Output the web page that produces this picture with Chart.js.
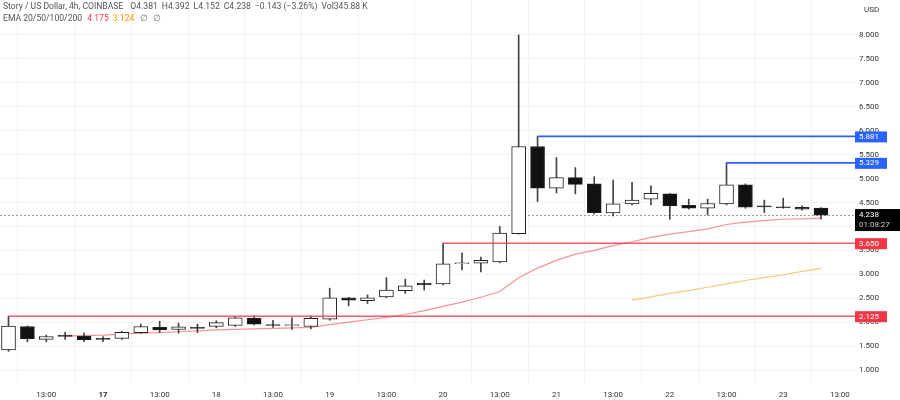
<!DOCTYPE html>
<html>
<head>
<meta charset="utf-8">
<script src="https://cdn.jsdelivr.net/npm/chart.js@4.4.1/dist/chart.umd.min.js"></script>
<style>
html, body { margin: 0; padding: 0; background: #fff; }
#wrap { width: 900px; height: 400px; }
</style>
</head>
<body>
<div id="wrap"><canvas id="chart"></canvas></div>
<script>
// 4h candles, Story / US Dollar (COINBASE)
let opens  = [1.42,1.91,1.64,1.73,1.71,1.66,1.66,1.78,1.89,1.85,1.89,1.91,1.93,2.08,1.95,1.93,1.91,2.06,2.51,2.45,2.53,2.66,2.81,2.80,3.22,3.23,3.26,3.85,5.67,4.80,5.02,4.89,4.28,4.47,4.57,4.68,4.44,4.38,4.47,4.87,4.43,4.41,4.40,4.381];
let highs  = [2.125,1.92,1.73,1.79,1.77,1.70,1.81,1.96,2.02,1.98,1.96,2.03,2.12,2.13,2.04,2.09,2.13,2.71,2.52,2.57,2.93,2.90,2.88,3.65,3.45,3.36,4.00,8.00,5.881,5.44,5.23,5.04,4.97,4.92,4.85,4.69,4.57,4.57,5.329,4.89,4.55,4.59,4.43,4.392];
let lows   = [1.39,1.59,1.59,1.64,1.59,1.59,1.64,1.77,1.78,1.77,1.78,1.88,1.91,1.94,1.89,1.85,1.86,2.04,2.34,2.39,2.51,2.60,2.67,2.78,3.09,3.05,3.24,3.84,4.52,4.70,4.68,4.26,4.22,4.45,4.45,4.15,4.36,4.24,4.45,4.38,4.29,4.38,4.34,4.152];
let closes = [1.92,1.65,1.70,1.70,1.63,1.64,1.79,1.91,1.84,1.90,1.87,1.99,2.09,1.96,1.93,1.95,2.08,2.51,2.46,2.51,2.67,2.76,2.78,3.22,3.24,3.29,3.86,5.67,4.80,5.02,4.88,4.29,4.47,4.55,4.69,4.43,4.38,4.48,4.87,4.40,4.41,4.39,4.36,4.238];

// EMA 20 starts at bar 3, EMA 50 starts at bar 33
let ema20Start = 3;
let ema20 = [1.71,1.72,1.73,1.75,1.77,1.78,1.80,1.82,1.84,1.85,1.86,1.87,1.88,1.89,1.95,2.00,2.05,2.10,2.16,2.24,2.33,2.42,2.52,2.64,2.93,3.13,3.29,3.42,3.50,3.60,3.68,3.77,3.84,3.89,3.95,4.04,4.09,4.12,4.15,4.16,4.175];
let ema50Start = 33;
let ema50 = [2.46,2.53,2.60,2.66,2.73,2.80,2.87,2.93,2.99,3.06,3.124];

// horizontal rays drawn from candle highs
let rayLevels = [2.125, 3.650, 5.881, 5.329];
let rayStartBars = [0, 23, 28, 38];

let lastPrice = 4.238;
let countdown = '01:08:27';

let xTickBars = [2,5,8,11,14,17,20,23,26,29,32,35,38,41,44];
let xTickLabels = ['13:00','17','13:00','18','13:00','19','13:00','20','13:00','21','13:00','22','13:00','23','13:00'];
let yTickValues = [1,1.5,2,2.5,3,3.5,4,4.5,5,5.5,6,6.5,7,7.5,8];

const RED = '#f23645';
const BLUE = '#2962ff';
const rayColors = ['rgba(242,54,69,0.8)', 'rgba(242,54,69,0.8)', BLUE, BLUE];
const FONT = 'Roboto';

const bodies = opens.map((o, i) => ({ x: i, y: [o, closes[i]] }));
const wicks = lows.map((l, i) => ({ x: i, y: [l, highs[i]] }));
const upDown = closes.map((c, i) => c >= opens[i]);

const rayDatasets = rayLevels.map((lv, k) => ({
    type: 'line',
    data: [{ x: rayStartBars[k], y: lv }, { x: 46, y: lv }],
    borderColor: rayColors[k],
    borderWidth: 1.6,
    pointRadius: 0,
    order: 0
}));

function noPad(scale) {
    scale.paddingTop = 0;
    scale.paddingBottom = 0;
    scale.paddingLeft = 0;
    scale.paddingRight = 0;
}

const overlayPlugin = {
    id: 'overlay',
    beforeDatasetsDraw(chart) {
        const { ctx, chartArea, scales } = chart;
        const y = Math.round(scales.y.getPixelForValue(lastPrice)) + 0.5;
        ctx.save();
        ctx.strokeStyle = '#9a9a9a';
        ctx.lineWidth = 1;
        ctx.setLineDash([2, 2]);
        ctx.beginPath();
        ctx.moveTo(chartArea.left, y);
        ctx.lineTo(chartArea.right, y);
        ctx.stroke();
        ctx.restore();
    },
    afterDraw(chart) {
        const { ctx, chartArea, scales } = chart;
        const right = chartArea.right;
        ctx.save();
        ctx.textBaseline = 'middle';
        ctx.font = '8px ' + FONT;

        // price labels for rays
        rayLevels.forEach((lv, k) => {
            const y = scales.y.getPixelForValue(lv);
            ctx.fillStyle = k < 2 ? RED : BLUE;
            ctx.fillRect(right, y - 5, 32, 11);
            ctx.fillStyle = '#fff';
            ctx.textAlign = 'left';
            ctx.fillText(lv.toFixed(3), right + 4, y + 0.5);
        });

        // last price box
        const yp = scales.y.getPixelForValue(lastPrice);
        ctx.fillStyle = '#000';
        ctx.fillRect(right, yp - 6, 900 - right, 22);
        ctx.fillStyle = '#fff';
        ctx.fillText(lastPrice.toFixed(3), right + 4, yp);
        ctx.fillStyle = '#ccc';
        ctx.fillText(countdown, right + 4, yp + 10);

        // currency
        ctx.fillStyle = '#333';
        ctx.fillText('USD', right + 9, 10);

        // header legend
        ctx.font = '8.6px ' + FONT;
        ctx.textAlign = 'left';
        let x = 3;
        let ty = 7;
        const put = (s, col, gap) => {
            ctx.fillStyle = col;
            ctx.fillText(s, x, ty);
            x += ctx.measureText(s).width + gap;
        };
        put('Story / US Dollar, 4h, COINBASE', '#555', 7);
        put('O4.381', '#555', 4);
        put('H4.392', '#555', 4);
        put('L4.152', '#555', 4);
        put('C4.238', '#555', 4);
        put('\u22120.143 (\u22123.26%)', '#555', 4);
        put('Vol345.88 K', '#555', 0);
        ty = 19;
        x = 3;
        put('EMA 20/50/100/200', '#555', 5);
        put('4.175', RED, 4);
        put('3.124', '#ff9800', 6);
        put('\u2205', '#777', 5);
        put('\u2205', '#777', 0);
        ctx.restore();
    }
};

const chart = new Chart(document.getElementById('chart'), {
    type: 'bar',
    data: {
        datasets: [
            {
                data: bodies,
                backgroundColor: upDown.map(u => u ? '#ffffff' : '#111111'),
                borderColor: '#222',
                borderWidth: 1,
                borderSkipped: false,
                barThickness: 14,
                grouped: false,
                order: 1
            },
            {
                data: wicks,
                backgroundColor: '#444',
                borderWidth: 0,
                barThickness: 1,
                grouped: false,
                order: 2
            },
            {
                type: 'line',
                data: ema20.map((v, i) => ({ x: ema20Start + i, y: v })),
                borderColor: 'rgba(242,54,69,0.55)',
                borderWidth: 1.2,
                pointRadius: 0,
                order: 3
            },
            {
                type: 'line',
                data: ema50.map((v, i) => ({ x: ema50Start + i, y: v })),
                borderColor: 'rgba(255,152,0,0.55)',
                borderWidth: 1.2,
                pointRadius: 0,
                order: 3
            },
            ...rayDatasets
        ]
    },
    options: {
        responsive: true,
        maintainAspectRatio: false,
        animation: false,
        layout: { padding: 0 },
        plugins: {
            legend: { display: false },
            tooltip: { enabled: false }
        },
        scales: {
            x: {
                type: 'linear',
                min: -0.45,
                max: 44.8,
                offset: false,
                afterBuildTicks(scale) {
                    scale.ticks = xTickBars.map(v => ({ value: v }));
                },
                afterFit(scale) { scale.height = 17; noPad(scale); },
                ticks: {
                    autoSkip: false,
                    maxRotation: 0,
                    padding: 7,
                    color: '#333',
                    font: ctx => ({ family: FONT, size: 8, weight: (ctx.tick && ctx.tick.value === 5) ? 'bold' : 'normal' }),
                    callback: (v, i) => xTickLabels[i]
                },
                grid: { color: '#f2f2f2', drawTicks: false },
                border: { display: false }
            },
            y: {
                type: 'linear',
                position: 'right',
                min: 0.729,
                max: 8.731,
                afterBuildTicks(scale) {
                    scale.ticks = yTickValues.map(v => ({ value: v }));
                },
                afterFit(scale) { scale.width = 45; noPad(scale); },
                ticks: {
                    padding: 4,
                    color: '#333',
                    font: { family: FONT, size: 8 },
                    callback: v => Number(v).toFixed(3)
                },
                grid: { color: '#f2f2f2', drawTicks: false },
                border: { display: false }
            }
        }
    },
    plugins: [overlayPlugin]
});
</script>
</body>
</html>
